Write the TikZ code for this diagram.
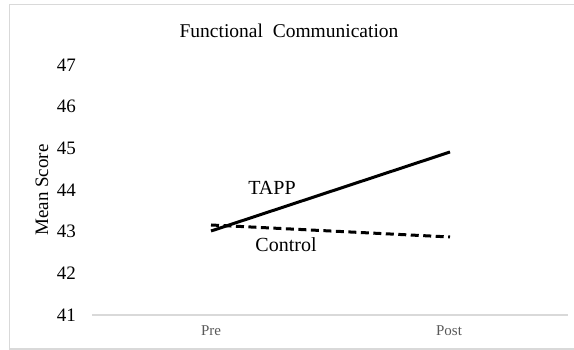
\documentclass[tikz,border=0pt]{standalone}
\usepackage{fontspec}
\setmainfont{Liberation Serif}
\definecolor{framegray}{HTML}{D9D9D9}
\definecolor{catgray}{HTML}{595959}
\tikzset{
  ticklbl/.style={anchor=east, inner sep=0pt, font=\fontsize{19}{22}\selectfont},
  catlbl/.style={inner sep=0pt, text=catgray, font=\fontsize{15}{18}\selectfont},
  serieslbl/.style={inner sep=0pt, font=\fontsize{20}{24}\selectfont},
  seriesline/.style={line width=3pt, black},
}
\begin{document}
\begin{tikzpicture}[x=1pt,y=1pt]
\useasboundingbox (0,0) rectangle (574,350);
% frame
\draw[framegray, line width=1.2pt] (9.5,1) rectangle (590,345.5);
% title
\node[inner sep=0pt, font=\fontsize{19.5}{23}\selectfont] (title) at (289,319) {Functional\ \ Communication};
% axis
\coordinate (axL) at (92,35);
\coordinate (axR) at (568,35);
\draw[framegray, line width=1.2pt] (axL) -- (axR);
% y tick labels
\foreach \v [count=\i from 0] in {41,...,47} {
  \node[ticklbl] (t\v) at (76,{35+\i*41.67}) {\v};
}
\node[rotate=90, inner sep=0pt, font=\fontsize{19}{22}\selectfont] (ylab) at (42,160) {Mean Score};
% category labels
\node[catlbl] (pre) at (211,19) {Pre};
\node[catlbl] (post) at (449,19) {Post};
% series
\coordinate (tapp1) at (211,119);
\coordinate (tapp2) at (450,198);
\coordinate (ctrl1) at (211,125);
\coordinate (ctrl2) at (450,113);
\draw[seriesline, dash pattern=on 8pt off 4.5pt] (ctrl1) -- (ctrl2);
\draw[seriesline] (tapp1) -- (tapp2);
% series labels
\node[serieslbl] (ltapp) at (272,162) {TAPP};
\node[serieslbl] (lctrl) at (286,105) {Control};
\end{tikzpicture}
\end{document}
